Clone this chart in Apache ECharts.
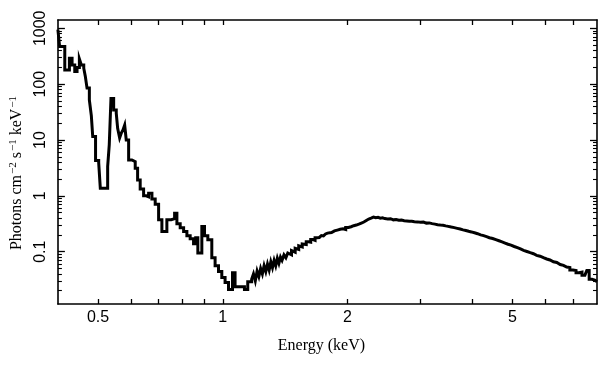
<!DOCTYPE html>
<html><head><meta charset="utf-8">
<script src="https://cdn.jsdelivr.net/npm/echarts@6/dist/echarts.min.js"></script>
<style>html,body{margin:0;padding:0;background:#fff}#c{width:609px;height:366px}</style>
</head><body><div id="c"></div>
<script>
// Bin left edges (keV) and flux (Photons cm^-2 s^-1 keV^-1)
const energy = [
0.400,0.4038,0.4156,0.4264,0.4328,0.4393,0.4449,0.4507,0.4557,0.4618,
0.4659,0.4703,0.4764,0.4817,0.4854,0.4931,0.5018,0.5063,0.5274,0.5321,
0.5372,0.5453,0.5532,0.5575,0.5637,0.5690,0.5742,0.5797,0.5848,0.5926,
0.6035,0.6147,0.6229,0.6319,0.6440,0.6534,0.6622,0.6745,0.6869,0.7000,
0.7129,0.7329,0.7508,0.7651,0.7749,0.7892,0.8044,0.8191,0.8342,0.8500,
0.8603,0.8705,0.8901,0.9035,0.9202,0.9408,0.9582,0.9764,0.9945,1.0128,
1.0321,1.0553,1.0706,1.1279,1.1487,
1.174,1.186,1.198,1.210,1.222,1.234,1.246,1.258,1.270,1.282,
1.294,1.306,1.318,1.330,1.342,1.354,1.366,1.378,1.390,1.405,
1.420,1.435,1.450,1.465,1.480,1.495,1.510,1.525,1.540,1.555,
1.570,1.590,1.610,1.630,1.650,1.670,1.690,1.710,1.730,1.750,
1.770,1.790,1.810,
1.83,1.86,1.89,1.92,1.95,1.98,2.01,2.04,2.07,2.10,
2.13,2.16,2.19,2.22,2.25,2.28,2.31,2.34,2.37,2.40,
2.43,2.46,2.50,2.54,2.58,2.62,2.66,2.70,2.74,2.78,
2.82,2.86,2.90,2.95,3.00,3.05,3.10,3.15,3.20,3.25,
3.30,3.35,3.40,3.45,3.50,3.56,3.62,3.68,3.74,3.80,
3.86,3.92,3.98,4.05,4.12,4.19,4.26,4.33,4.40,4.48,
4.56,4.64,4.72,4.80,4.88,4.96,5.05,5.14,5.23,5.32,
5.42,5.52,5.62,5.72,5.83,5.94,6.05,6.16,6.28,6.40,
6.52,6.64,6.76,6.88,7.00,7.12,7.24,7.36,7.48,7.56,
7.66,7.78,7.90
];
const flux = [
950,471,180,291,221,169,199,283,221,193,
137,85,52,27,11.5,4.3,3.9,1.37,3.33,8.15,
55.6,34.4,30.3,16.2,10.9,13.3,15.1,18.5,10.0,4.39,
4.1,3.12,1.93,1.33,1.0,0.96,1.11,0.88,0.705,0.373,
0.23,0.373,0.389,0.487,0.316,0.268,0.231,0.193,0.171,0.139,
0.178,0.095,0.283,0.193,0.164,0.078,0.056,0.044,0.0345,0.028,
0.021,0.042,0.0235,0.021,0.029,
0.032,0.040,0.030,0.045,0.036,0.050,0.040,0.056,0.044,0.060,
0.047,0.066,0.052,0.070,0.056,0.076,0.062,0.080,0.070,0.088,
0.078,0.095,0.088,0.105,0.098,0.115,0.110,0.128,0.122,0.138,
0.135,0.150,0.148,0.165,0.160,0.178,0.180,0.195,0.192,0.208,
0.215,0.225,0.220,
0.236,0.244,0.252,0.258,0.250,0.272,0.280,0.292,0.300,0.312,
0.326,0.340,0.362,0.385,0.400,0.418,0.405,0.412,0.398,0.404,
0.392,0.385,0.390,0.372,0.378,0.365,0.368,0.358,0.356,0.350,
0.352,0.345,0.342,0.336,0.340,0.325,0.328,0.318,0.312,0.305,
0.300,0.298,0.290,0.284,0.276,0.270,0.262,0.255,0.246,0.240,
0.232,0.226,0.218,0.210,0.200,0.194,0.186,0.178,0.172,0.164,
0.157,0.150,0.143,0.136,0.131,0.124,0.118,0.112,0.106,0.101,
0.096,0.092,0.086,0.083,0.078,0.074,0.071,0.066,0.064,0.059,
0.057,0.053,0.052,0.047,0.046,0.042,0.043,0.038,0.036,0.046,
0.032,0.031,0.029
];
const energyMin = 0.4, energyMax = 8.0;
const fluxMin = 0.01158, fluxMax = 1408;
const xTickValues = [0.5,0.6,0.7,0.8,0.9,1,2,3,4,5,6,7];
const xLabelValues = [0.5,1,2,5];
const yMajorValues = [0.1,1,10,100,1000];
const yMinorValues = [0.02,0.03,0.04,0.05,0.06,0.07,0.08,0.09,
  0.2,0.3,0.4,0.5,0.6,0.7,0.8,0.9, 2,3,4,5,6,7,8,9,
  20,30,40,50,60,70,80,90, 200,300,400,500,600,700,800,900];

const L = Math.log10;
const fmt = v => String(+Math.pow(10, v).toPrecision(2));
const seriesData = energy.map((e, i) => [L(e), L(flux[i])]);
seriesData.push([L(energyMax), L(flux[flux.length - 1])]);

const lineStyle = { color: '#000', width: 1.6 };
const labelFont = { fontFamily: 'Liberation Sans', fontSize: 16, color: '#000' };
const xBase = { type: 'value', min: L(energyMin), max: L(energyMax), splitLine: { show: false } };
const yBase = { type: 'value', min: L(fluxMin), max: L(fluxMax), splitLine: { show: false } };

const chart = echarts.init(document.getElementById('c'), null, { renderer: 'canvas' });
chart.setOption({
  animation: false,
  backgroundColor: '#fff',
  grid: { left: 55, right: 12, top: 20, bottom: 62, containLabel: false },
  xAxis: [
    Object.assign({}, xBase, {
      position: 'bottom',
      axisLine: { show: true, onZero: false, lineStyle },
      axisTick: { show: true, inside: true, length: 5, lineStyle: { color: '#000', width: 1.3 }, customValues: xTickValues.map(L) },
      axisLabel: Object.assign({ show: true, margin: 6, customValues: xLabelValues.map(L), formatter: fmt }, labelFont),
      name: 'Energy (keV)', nameLocation: 'middle', nameGap: 34,
      nameTextStyle: { fontFamily: 'Liberation Serif', fontSize: 16, color: '#000', padding: [0, 12, 0, 0] }
    }),
    Object.assign({}, xBase, {
      position: 'top',
      axisLine: { show: true, onZero: false, lineStyle },
      axisTick: { show: true, inside: true, length: 5, lineStyle: { color: '#000', width: 1.3 }, customValues: xTickValues.map(L) },
      axisLabel: { show: false }
    })
  ],
  yAxis: [
    Object.assign({}, yBase, {
      position: 'left',
      axisLine: { show: true, onZero: false, lineStyle },
      axisTick: { show: true, inside: true, length: 7, lineStyle: { color: '#000', width: 1.3 }, customValues: yMajorValues.map(L) },
      axisLabel: Object.assign({ show: true, rotate: 90, margin: 9, customValues: yMajorValues.map(L), formatter: fmt }, labelFont),
      name: '{n|Photons cm}{s|−2}{n| s}{s|−1}{n| keV}{s|−1}', nameLocation: 'middle', nameGap: 29,
      nameTextStyle: {
        padding: [0, 22, 0, 0],
        rich: {
          n: { fontFamily: 'Liberation Serif', fontSize: 16, color: '#000' },
          s: { fontFamily: 'Liberation Serif', fontSize: 11, color: '#000', verticalAlign: 'top', padding: [0, 0, 7, 1] }
        }
      }
    }),
    Object.assign({}, yBase, {
      position: 'left',
      axisLine: { show: false, onZero: false },
      axisTick: { show: true, inside: true, length: 4, lineStyle: { color: '#000', width: 1.1 }, customValues: yMinorValues.map(L) },
      axisLabel: { show: false }
    }),
    Object.assign({}, yBase, {
      position: 'right',
      axisLine: { show: true, onZero: false, lineStyle },
      axisTick: { show: true, inside: true, length: 7, lineStyle: { color: '#000', width: 1.3 }, customValues: yMajorValues.map(L) },
      axisLabel: { show: false }
    }),
    Object.assign({}, yBase, {
      position: 'right',
      axisLine: { show: false, onZero: false },
      axisTick: { show: true, inside: true, length: 4, lineStyle: { color: '#000', width: 1.1 }, customValues: yMinorValues.map(L) },
      axisLabel: { show: false }
    })
  ],
  series: [{
    type: 'line',
    xAxisIndex: 0, yAxisIndex: 0,
    step: 'end',
    data: seriesData,
    showSymbol: false,
    symbol: 'none',
    lineStyle: { color: '#000', width: 3, join: 'miter' },
    silent: true
  }]
});
</script>
</body></html>
